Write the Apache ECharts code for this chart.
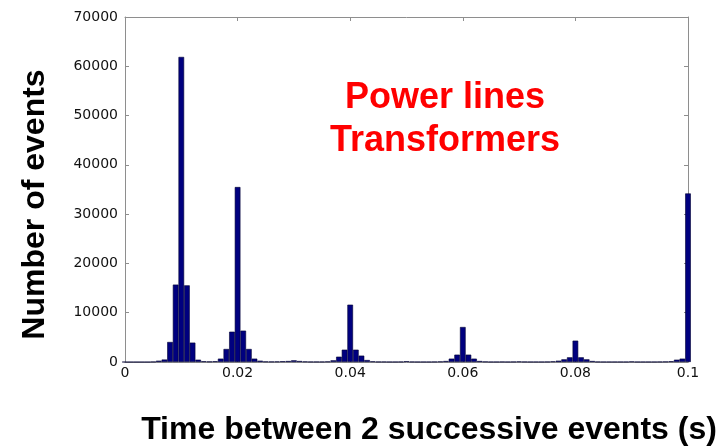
<!DOCTYPE html>
<html>
<head>
<meta charset="utf-8">
<script src="https://cdn.jsdelivr.net/npm/echarts@6/dist/echarts.min.js"></script>
<style>html,body{margin:0;padding:0;background:#fff;}#c{width:726px;height:446px;}</style>
</head>
<body>
<div id="c"></div>
<script>
// Histogram: bins of width 0.001 s, centred on 0, 0.001, ..., 0.100
const binWidth = 0.001;
const counts = [
  0, 0, 0, 0, 0, 50, 270, 500, 4060, 15700,
  61900, 15550, 3930, 470, 150, 100, 150, 680, 2640, 6150,
  35500, 6360, 2640, 680, 270, 100, 80, 100, 150, 200,
  340, 200, 100, 50, 50, 50, 100, 340, 1080, 2500,
  11630, 2500, 1290, 400, 130, 50, 50, 30, 30, 50,
  150, 50, 30, 30, 30, 50, 100, 200, 680, 1490,
  7100, 1490, 680, 200, 80, 30, 30, 50, 30, 50,
  100, 50, 30, 30, 30, 50, 130, 270, 540, 950,
  4330, 950, 540, 200, 50, 30, 30, 30, 30, 30,
  100, 30, 30, 30, 30, 50, 80, 150, 470, 680,
  34200
];
const xTicks = [0, 0.02, 0.04, 0.06, 0.08, 0.1];
const yTicks = [0, 10000, 20000, 30000, 40000, 50000, 60000, 70000];
const xTitle = 'Time between 2 successive events (s)';
const yTitle = 'Number of events';
const noteLines = ['Power lines', 'Transformers'];

const barData = counts.map((v, i) => [+(i * binWidth).toFixed(3), v]);

const axisGray = '#8e8e8e';
const baseAxis = (pos) => ({
  type: 'value',
  position: pos,
  axisLine: {show: true, onZero: false, lineStyle: {color: axisGray, width: 1}},
  axisTick: {show: true, inside: true, length: 4, lineStyle: {color: axisGray}},
  splitLine: {show: false}
});
const chart = echarts.init(document.getElementById('c'), null, {renderer: 'canvas'});
chart.setOption({
  animation: false,
  backgroundColor: '#ffffff',
  grid: {left: 125, right: 38, top: 17, bottom: 84, containLabel: false, outerBoundsMode: 'none'},
  xAxis: [Object.assign(baseAxis('bottom'), {
    min: xTicks[0], max: xTicks[xTicks.length - 1], interval: 0.02,
    axisLabel: {color: '#111', fontFamily: 'DejaVu Sans', fontSize: 14, margin: 4,
      formatter: (v) => String(+v.toFixed(3))},
    name: xTitle, nameLocation: 'middle', nameGap: 52,
    nameTextStyle: {fontFamily: 'Liberation Sans', fontWeight: 'bold', fontSize: 32, color: '#000', padding: [0, 0, 0, 45]}
  }), Object.assign(baseAxis('top'), {
    min: xTicks[0], max: xTicks[xTicks.length - 1], interval: 0.02,
    axisLabel: {show: false}
  })],
  yAxis: [Object.assign(baseAxis('left'), {
    min: yTicks[0], max: yTicks[yTicks.length - 1], interval: 10000,
    axisLabel: {color: '#111', fontFamily: 'DejaVu Sans', fontSize: 14, margin: 7,
      formatter: (v) => String(v)},
    name: yTitle, nameLocation: 'middle', nameGap: 74, nameRotate: 90,
    nameTextStyle: {fontFamily: 'Liberation Sans', fontWeight: 'bold', fontSize: 32, color: '#000', padding: [0, 30, 0, 0]}
  }), Object.assign(baseAxis('right'), {
    min: yTicks[0], max: yTicks[yTicks.length - 1], interval: 10000,
    axisLabel: {show: false}
  })],
  series: [{
    type: 'bar',
    xAxisIndex: 0, yAxisIndex: 0,
    data: barData,
    barCategoryGap: '0%',
    clip: true,
    itemStyle: {color: '#00007f', borderColor: '#000033', borderWidth: 0.6}
  }],
  graphic: [{
    type: 'text',
    left: 445 - 120, top: 77,
    style: {
      text: noteLines.join('\n'),
      fill: '#ff0000',
      font: 'bold 36px "Liberation Sans", Arial, sans-serif',
      textAlign: 'center',
      lineHeight: 43,
      width: 240
    }
  }]
});
</script>
</body>
</html>
